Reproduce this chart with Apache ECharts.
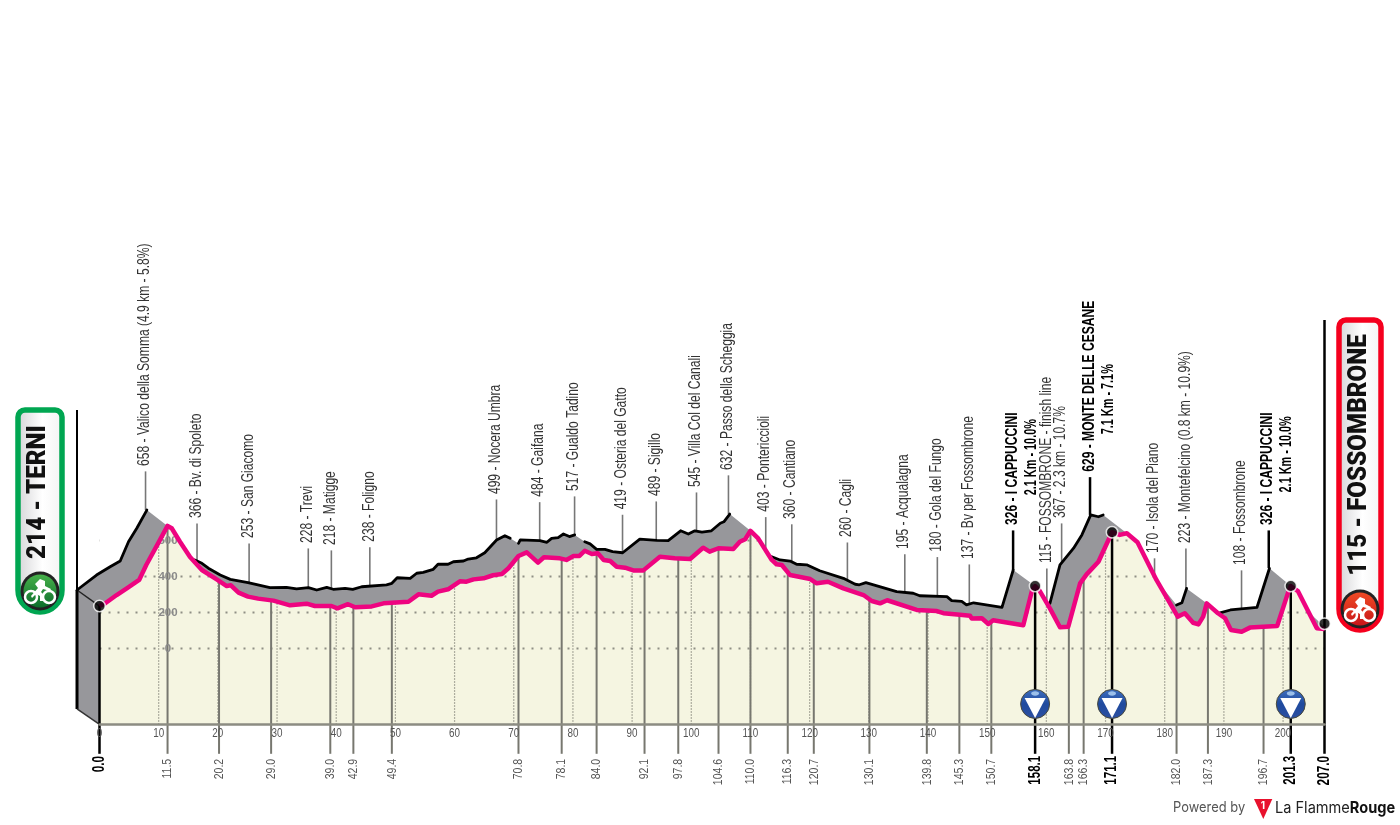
<!DOCTYPE html>
<html><head><meta charset="utf-8">
<style>html,body{margin:0;padding:0;background:#fff}#c{width:1400px;height:825px}</style>
<script src="https://cdn.jsdelivr.net/npm/echarts@6/dist/echarts.min.js"></script>
</head><body><div id="c"></div>
<script>
// ---- data: [km, metres] ----
const routeProfile = [[0,236],[0.8,247],[2.9,297],[4.8,338],[6.7,381],[7.9,464],[9.9,584],[11.5,681],[12.2,668],[13.6,593],[15.3,508],[17.3,436],[19.8,384],[21.5,347],[22.2,351],[23.5,310],[25.1,288],[26.8,277],[29.4,266],[32.2,240],[35.0,249],[36.4,236],[39.2,236],[40.2,223],[42.0,246],[43.2,229],[46.0,234],[48.0,251],[52.2,260],[53.9,301],[56.1,293],[57.2,316],[58.9,329],[60.9,373],[62.0,371],[63.2,384],[64.9,390],[66.5,407],[68.0,414],[69.1,446],[70.8,514],[72.2,534],[74.1,477],[75.1,507],[77.8,501],[78.9,492],[80.1,514],[81.1,514],[82.0,543],[83.2,525],[84.2,529],[85.2,492],[86.3,486],[87.4,454],[88.8,449],[90.2,434],[91.9,434],[94.7,510],[97.2,501],[99.8,497],[102.0,560],[103.1,538],[104.6,557],[107.1,553],[108.2,593],[109.1,607],[110.0,654],[111.3,612],[113.6,492],[114.4,468],[115.3,464],[116.7,408],[120.1,386],[121.2,362],[123.1,371],[125.7,334],[129.1,297],[130.5,264],[131.9,251],[133.1,268],[138.1,214],[141.5,208],[142.6,196],[145.4,188],[147.1,182],[147.4,166],[149.1,168],[150.2,136],[151.0,157],[156.1,129],[157.6,325],[158.1,347],[158.9,319],[160.6,223],[162.3,118],[163.7,121],[165.7,362],[166.8,412],[168.8,482],[171.1,646],[172.4,631],[173.6,640],[175.4,590],[178.6,381],[182.2,177],[183.4,196],[184.8,143],[185.7,134],[186.5,177],[187.1,251],[189.0,196],[190.2,168],[191.2,103],[193.0,93],[194.4,116],[196.7,121],[199.0,125],[200.9,316],[201.3,347],[202.5,319],[205.7,112],[207.0,108]];

// back edge of the extruded profile: [km, metres, outlined-to-next]
const backEdge = [[-3.8,325,1],[-0.5,408,1],[1.8,454,1],[3.5,486,1],[4.9,593,1],[6.3,668,1],[8.0,769,0],[11.5,681,0],[12.2,668,0],[13.6,593,0],[15.3,508,0],[16.1,492,1],[17.3,473,1],[18.4,446,1],[20.4,408,1],[22.1,384,1],[25.1,366,1],[28.8,338,1],[31.6,340,1],[33.3,331,1],[35.3,338,1],[36.7,325,1],[38.4,340,1],[39.5,329,1],[41.5,334,1],[42.8,329,1],[44.3,343,1],[48.5,354,1],[49.4,362,1],[50.3,393,1],[52.5,390,1],[53.6,418,1],[54.7,423,1],[56.4,440,1],[57.2,468,1],[58.9,468,1],[59.8,482,1],[61.5,486,1],[62.3,497,1],[63.7,504,1],[65.1,532,1],[67.1,603,1],[68.5,627,1],[69.4,612,0],[70.8,584,1],[71.1,603,1],[74.4,599,1],[75.6,590,1],[76.4,612,1],[77.5,616,1],[78.4,636,1],[79.4,622,1],[80.3,631,0],[82.0,593,1],[82.9,581,1],[84.0,551,1],[85.4,551,1],[86.7,538,1],[88.4,532,1],[91.3,608,1],[94.2,601,1],[96.1,599,1],[98.2,654,1],[99.5,636,1],[100.6,654,1],[101.8,647,1],[103.4,654,1],[104.9,696,1],[105.5,704,1],[106.5,747,0],[110.0,654,0],[111.3,612,0],[113.6,510,1],[115.0,492,1],[116.7,486,1],[117.8,468,1],[119.5,465,1],[121.7,432,1],[125.7,390,1],[127.7,357,1],[128.4,354,1],[129.5,366,1],[134.7,316,1],[137.5,307,1],[138.6,293,1],[143.2,288,1],[144.0,266,1],[145.7,262,1],[146.5,242,1],[147.7,254,1],[152.5,229,1],[154.4,436,0],[158.1,347,0],[158.9,319,0],[160.6,251,1],[162.3,464,1],[164.6,557,1],[166.0,631,1],[167.5,742,1],[168.8,732,1],[169.6,742,0],[173.6,640,0],[175.4,590,0],[178.6,381,0],[182.0,242,1],[182.9,254,1],[183.7,334,0],[187.1,251,0],[189.2,196,1],[191.1,214,1],[195.6,229,1],[197.7,446,0],[201.3,347,0],[202.5,319,0],[204.5,197,0],[207.0,120,0]];

const waypointKm = [11.5,20.2,29.0,39.0,42.9,49.4,70.8,78.1,84.0,92.1,97.8,104.6,110.0,116.3,120.7,130.1,139.8,145.3,150.7,158.1,163.8,166.3,171.1,182.0,187.3,196.7,201.3];
const waypointNames = ["658 - Valico della Somma (4.9 km - 5.8%)","366 - Bv. di Spoleto","253 - San Giacomo","228 - Trevi","218 - Matigge","238 - Foligno","499 - Nocera Umbra","484 - Gaifana","517 - Gualdo Tadino","419 - Osteria del Gatto","489 - Sigillo","545 - Villa Col del Canali","632 - Passo della Scheggia","403 - Pontericcioli","360 - Cantiano","260 - Cagli","195 - Acqualagna","180 - Gola del Fungo","137 - Bv per Fossombrone","326 - I CAPPUCCINI","115 - FOSSOMBRONE - finish line","367 - 2.3 km - 10.7%","629 - MONTE DELLE CESANE","170 - Isola del Piano","223 - Montefelcino (0.8 km - 10.9%)","108 - Fossombrone","326 - I CAPPUCCINI"];
const waypointKmLabels = ["11.5","20.2","29.0","39.0","42.9","49.4","70.8","78.1","84.0","92.1","97.8","104.6","110.0","116.3","120.7","130.1","139.8","145.3","150.7","158.1","163.8","166.3","171.1","182.0","187.3","196.7","201.3"];
const climbDetails = {19:"2.1 Km - 10.0%",22:"7.1 Km - 7.1%",26:"2.1 Km - 10.0%"};
const majorWaypoints = [19,22,26];
const startKm = 0, finishKm = 207;
const kmMarkers = [[0,236],[158.1,347],[171.1,646],[201.3,347],[207,138]];
const gpmKm = [158.1,171.1,201.3];
const elevationGrid = [0,200,400,600];
const kmGrid = [10,20,30,40,50,60,70,80,90,100,110,120,130,140,150,160,170,180,190,200];

// ---- layout (axis units) ----
const depthKm = 3.72, baseEl = -422;
const wallBottom = [-3.8,-336], tickBottomEl = -585, wallTopEl = 1325, finishTopEl = 1825;
const stemBaseEl = [769,486,369,338,336,347,603,599,631,532,603,653,747,530,486,380,314,292,248,436,270,464,742,403,336,225,447];
const labelBaseEl = [1014,725,614,586,575,593,858,843,875,773,847,897,992,760,720,619,553,538,497,686,475,725,982,531,586,464,686];
const detailBaseEl = {19:851,22:1190,26:867};
const GREY='#97979b', YEL='#f5f5e1', PINK='#ee0480', SANS='"Liberation Sans"';

function once(render,z){return {type:'custom',coordinateSystem:'cartesian2d',z,silent:true,clip:false,data:[[0,0]],renderItem:render};}
function poly(api,pts,fill){return {type:'polygon',shape:{points:pts.map(p=>api.coord([p[0],p[1]]))},style:{fill}};}
function seg(api,a,b,stroke,w,dash){return {type:'line',shape:{x1:a[0],y1:a[1],x2:b[0],y2:b[1]},style:{stroke,lineWidth:w,lineDash:dash||null}};}

function ridgeRuns(){
  const runs=[];let cur=[];
  backEdge.forEach(p=>{cur.push([p[0],p[1]]);if(!p[2]){if(cur.length>1)runs.push(cur);cur=[];}});
  if(cur.length>1)runs.push(cur);
  return runs;
}

function rider(cx,cy,c1,c2){
  const z=22;
  return {type:'group',x:cx,y:cy,children:[
    {type:'circle',z,shape:{r:19.5},style:{fill:'#222'}},
    {type:'circle',z:z+1,shape:{r:16.5},style:{fill:{type:'linear',x:0,y:0,x2:0,y2:1,colorStops:[{offset:0,color:c1},{offset:1,color:c2}]}}},
    {type:'circle',z:z+2,shape:{cx:-9,cy:6,r:6},style:{fill:'none',stroke:'#fff',lineWidth:2.5}},
    {type:'circle',z:z+2,shape:{cx:9,cy:6,r:6},style:{fill:'none',stroke:'#fff',lineWidth:2.5}},
    {type:'polygon',z:z+2,shape:{points:[[-9,5],[-2,-3],[-5,-7],[0,-12],[5,-10],[5,-5],[11,-2],[10,0],[3,-2],[1,1],[4,4],[3,10],[0,10],[0,5],[-4,3],[-8,7]]},style:{fill:'#fff'}}
  ]};
}
function badge(x,y,w,h,border,text,tx,ty,c1,c2,iy){
  return [
    {type:'rect',shape:{x,y,width:w,height:h,r:[7,7,w/2,w/2]},style:{fill:{type:'linear',x:0,y:0,x2:1,y2:0,colorStops:[{offset:0,color:'#d2d2d4'},{offset:.55,color:'#ffffff'},{offset:1,color:'#f2f2f2'}]},stroke:border,lineWidth:5.5},z:20},
    {type:'text',x:tx,y:ty,rotation:Math.PI/2,scaleX:.93,style:{text,align:'center',verticalAlign:'middle',fill:'#111',font:'900 26px Roboto'},z:21},
    rider(x+w/2,iy,c1,c2)
  ];
}

const option={
  animation:false,backgroundColor:'#fff',
  grid:{left:99.5,right:75.5,top:396.5,bottom:68.5,containLabel:false},
  xAxis:{type:'value',min:0,max:207,interval:10,position:'bottom',offset:-32,z:6,
    axisLine:{show:true,onZero:false,lineStyle:{color:'#8c8c82',width:2.5}},axisTick:{show:false},splitLine:{show:false},
    axisLabel:{show:false}},
  yAxis:{type:'value',min:-600,max:1400,interval:200,position:'left',offset:-68.5,z:6,
    axisLine:{show:false},axisTick:{show:false},splitLine:{show:false},
    axisLabel:{margin:0,align:'center',fontFamily:'Liberation Sans',fontSize:11.5,fontWeight:'bold',color:'#8a8a8a',formatter:v=>elevationGrid.includes(v)?String(v):''}},
  series:[
    // pale ground under the route
    once((p,api)=>poly(api,routeProfile.concat([[207,baseEl],[0,baseEl]]),YEL),1),
    // dotted grid + waypoint ticks (upper parts get masked off)
    once((p,api)=>({type:'group',children:[
      ...elevationGrid.map(e=>seg(api,api.coord([0,e]),api.coord([207,e]),'#8f8f85',2,[2,7])),
      ...kmGrid.map(k=>seg(api,api.coord([k,baseEl]),api.coord([k,740]),'#66665e',1.2,[1,2])),
      ...waypointKm.map((k,i)=>majorWaypoints.includes(i)?null:seg(api,api.coord([k,740]),api.coord([k,tickBottomEl]),'#77776f',2)).filter(Boolean)
    ]}),2),
    // white cover above the route
    once((p,api)=>poly(api,routeProfile.concat([[207,760],[0,760]]),'#fff'),3),
    // upper stems
    once((p,api)=>({type:'group',children:waypointKm.map((k,i)=>{
      const m=majorWaypoints.includes(i);
      return seg(api,api.coord([k-depthKm,stemBaseEl[i]]),api.coord([k-depthKm,labelBaseEl[i]-30]),m?'#000':'#777',m?2.5:1.6);
    })}),4),
    // grey extruded band
    once((p,api)=>poly(api,backEdge.map(b=>[b[0],b[1]]).concat(routeProfile.slice().reverse()).concat([[0,baseEl],wallBottom]),GREY),5),
    // frame lines
    once((p,api)=>({type:'group',children:[
      seg(api,api.coord([-3.8,wallTopEl]),api.coord([-3.8,325]),'#000',2),
      seg(api,api.coord([-3.8,325]),api.coord(wallBottom),'#000',3),
      seg(api,api.coord([-3.8,325]),api.coord([0,236]),'#222',1.5),
      seg(api,api.coord(wallBottom),api.coord([0,baseEl]),'#333',1.5),
      seg(api,api.coord([finishKm,finishTopEl]),api.coord([finishKm,tickBottomEl]),'#000',2.5),
      seg(api,api.coord([startKm,236]),api.coord([startKm,tickBottomEl]),'#000',2.5),
      ...majorWaypoints.map(i=>seg(api,api.coord([waypointKm[i],routeProfile.find(q=>q[0]===waypointKm[i])[1]]),api.coord([waypointKm[i],tickBottomEl]),'#000',2.5))
    ]}),6),
    // black outline of the back edge
    once((p,api)=>({type:'group',children:ridgeRuns().map(run=>({type:'polyline',shape:{points:run.map(q=>api.coord(q))},style:{fill:null,stroke:'#000',lineWidth:2.8,lineJoin:'round',lineCap:'round'}}))}),7),
    {type:'line',data:routeProfile,showSymbol:false,symbol:'none',clip:false,silent:true,z:8,lineStyle:{color:PINK,width:4.5,join:'round'}},
    {type:'scatter',data:kmMarkers,symbol:'circle',symbolSize:11.5,clip:false,silent:true,z:9,itemStyle:{color:'#000',borderColor:'#fff',borderWidth:1.5}},
    // blue descent markers
    {type:'custom',coordinateSystem:'cartesian2d',z:9,silent:true,clip:false,data:gpmKm.map(k=>[k,-308]),renderItem:(p,api)=>{
      const c=api.coord([api.value(0),api.value(1)]);
      return {type:'group',x:c[0],y:c[1],children:[
        {type:'circle',shape:{r:14.5},style:{fill:{type:'linear',x:0,y:0,x2:0,y2:1,colorStops:[{offset:0,color:'#3f6fbe'},{offset:.5,color:'#1f4a9e'},{offset:1,color:'#2c4fa0'}]},stroke:'#4a4a3c',lineWidth:1}},
        {type:'ellipse',shape:{cx:0,cy:-10.5,rx:4,ry:2.2},style:{fill:'#9cc0ea'}},
        {type:'polygon',shape:{points:[[-10.5,-6],[10.5,-6],[0,14]]},style:{fill:'#fff'}}
      ]};
    }},
    // upper labels
    once((p,api)=>({type:'group',children:waypointNames.flatMap((t,i)=>{
      const m=majorWaypoints.includes(i);
      const c=api.coord([waypointKm[i]-depthKm,labelBaseEl[i]]);
      const out=[{type:'text',x:c[0]-1,y:c[1],rotation:Math.PI/2,scaleX:m?.71:.71,style:{text:t,align:'left',verticalAlign:'middle',fill:m?'#000':'#333',font:(m?'bold ':'')+'17px '+SANS}}];
      if(climbDetails[i]){
        const d=api.coord([waypointKm[i]-depthKm,detailBaseEl[i]]);
        out.push({type:'text',x:d[0]+18,y:d[1],rotation:Math.PI/2,scaleX:.64,style:{text:climbDetails[i],align:'left',verticalAlign:'middle',fill:'#000',font:'bold 17px '+SANS}});
      }
      return out;
    })}),10),
    // km labels under the ticks and along the axis
    once((p,api)=>({type:'group',children:[
      ...waypointKmLabels.map((t,i)=>{const m=majorWaypoints.includes(i);const c=api.coord([waypointKm[i],tickBottomEl]);
        return {type:'text',x:c[0],y:c[1]+(m?2:5),rotation:Math.PI/2,scaleX:m?.72:.78,style:{text:t,align:'right',verticalAlign:'middle',fill:m?'#000':'#555',font:(m?'bold 16px ':'13.5px ')+SANS}};}),
      ...[[startKm,'0.0'],[finishKm,'207.0']].map(a=>{const c=api.coord([a[0],tickBottomEl]);
        return {type:'text',x:c[0],y:c[1]+2,rotation:Math.PI/2,scaleX:.74,style:{text:a[1],align:'right',verticalAlign:'middle',fill:'#000',font:'bold 16px '+SANS}};}),
      ...[0].concat(kmGrid).map(k=>{const c=api.coord([k,baseEl]);
        return {type:'text',x:c[0],y:c[1]+9,scaleX:.76,style:{text:String(k),align:'center',verticalAlign:'middle',fill:'#555',font:'13px '+SANS}};})
    ]}),10)
  ],
  graphic:[
    ...badge(18,410,44,202,'#00a651','214 - TERNI',38.5,492,'#46b04a','#0d6e2c',591),
    ...badge(1339,320,42,310,'#f5001e','115 - FOSSOMBRONE',1359,455,'#ef4a24','#c8161a',609),
    {type:'text',x:1173,y:808,scaleX:.89,style:{text:'Powered by',fill:'#555',font:'14.5px Inter',verticalAlign:'middle'},z:20},
    {type:'polygon',shape:{points:[[1254,799],[1272.3,799],[1263.3,819]]},style:{fill:'#e8112d'},z:20},
    {type:'text',x:1263,y:806,style:{text:'1',fill:'#fff',font:'bold 10px Inter',align:'center',verticalAlign:'middle'},z:21},
    {type:'text',x:1275,y:808,scaleX:.94,style:{text:'{a|La Flamme}{b|Rouge}',verticalAlign:'middle',rich:{a:{fill:'#222',font:'15.5px Inter'},b:{fill:'#111',font:'bold 15.5px Inter'}}},z:20}
  ]
};
echarts.init(document.getElementById('c'),null,{renderer:'canvas',width:1400,height:825}).setOption(option);
</script></body></html>
